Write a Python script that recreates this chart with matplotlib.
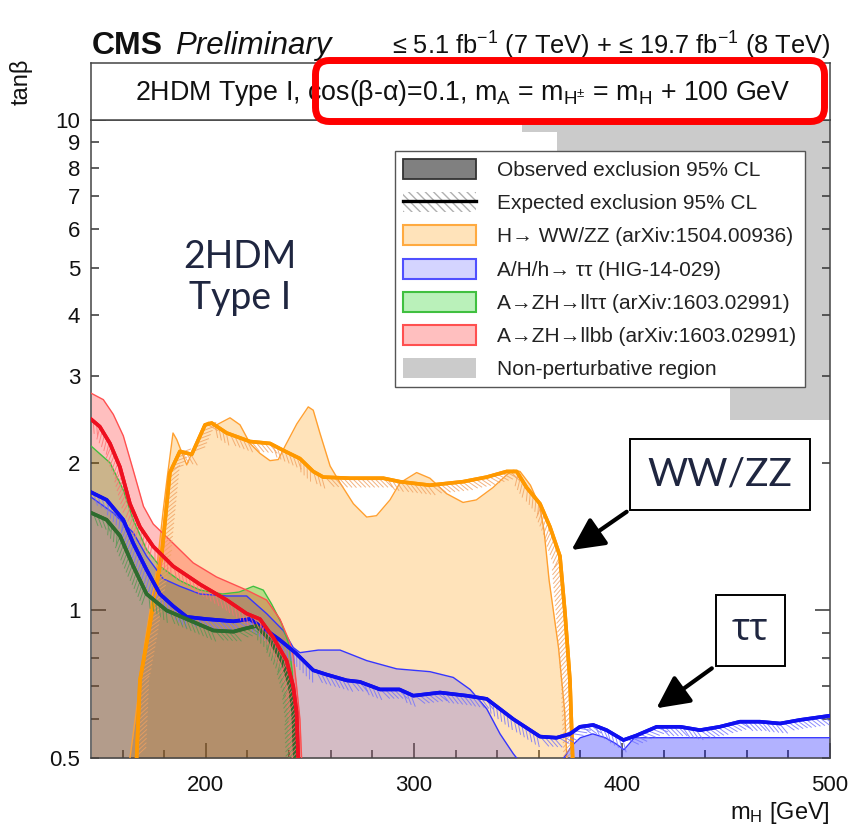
import matplotlib
matplotlib.use('Agg')
import matplotlib.pyplot as plt
import matplotlib.patheffects as pe
from matplotlib.patches import Patch, FancyBboxPatch
from matplotlib.lines import Line2D
from matplotlib.colors import to_rgba
from matplotlib.ticker import MultipleLocator, NullFormatter

plt.rcParams['font.family'] = ['Liberation Sans', 'DejaVu Sans']
plt.rcParams['mathtext.default'] = 'regular'

# ---- data (m_H in GeV, tan(beta)) ----
ww_obs_x = [163.5, 166.7, 170.7, 176.3, 179.5, 181.3, 184.2, 186, 190.8, 198.8, 201.2, 205.2,
            211.6, 216.4, 221.2, 226, 230.8, 234.8, 238, 243.7, 249.2, 251.6, 254.8, 259.7,
            264.5, 270.9, 277.3, 282, 288.5, 293.3, 301.3, 307.7, 315.7, 323.6, 330, 338,
            344.6, 347.7, 351, 356, 360.5, 362.5, 365, 369.5, 372.5, 373.5]
ww_obs_y = [0.5, 0.63, 0.86, 1.21, 1.6, 1.85, 2.30, 2.23, 1.98, 2.37, 2.42, 2.39,
            2.47, 2.39, 2.19, 2.09, 2.02, 2.03, 2.16, 2.40, 2.60, 2.56, 2.30, 1.97,
            1.82, 1.65, 1.55, 1.56, 1.68, 1.82, 1.91, 1.86, 1.73, 1.66, 1.68, 1.78,
            1.89, 1.93, 1.92, 1.80, 1.63, 1.46, 1.15, 0.84, 0.62, 0.5]
ww_exp_x = [166.7, 168.3, 172, 175, 178.7, 182.7, 187.5, 193.2, 199.6, 202.8, 210, 221.2,
            230.8, 237.2, 245.2, 251.6, 256.4, 269.3, 285.3, 293.3, 307.7, 323.6, 335,
            344.6, 349.4, 354.2, 360.6, 365.4, 370.2, 372.6, 375, 376.3]
ww_exp_y = [0.5, 0.72, 0.88, 1.05, 1.29, 1.91, 2.11, 2.08, 2.39, 2.41, 2.30, 2.21,
            2.19, 2.12, 2.04, 1.92, 1.87, 1.86, 1.86, 1.83, 1.80, 1.83, 1.87,
            1.92, 1.92, 1.78, 1.65, 1.48, 1.29, 0.99, 0.72, 0.5]

tt_obs_x = [145, 155.5, 165.1, 171.5, 179.5, 187.5, 197.2, 210, 219.6, 229.2, 237.2, 242,
            245.2, 254, 264.5, 277.3, 291.7, 307.7, 318.9, 327, 335, 341.4, 347.8, 349.4]
tt_obs_y = [1.70, 1.58, 1.44, 1.29, 1.16, 1.12, 1.08, 1.07, 1.07, 0.985, 0.91, 0.84,
            0.82, 0.83, 0.83, 0.79, 0.76, 0.75, 0.73, 0.69, 0.63, 0.56, 0.51, 0.5]
tt_obs2_x = [372, 376, 380, 386, 392, 397, 401, 406, 420, 440, 460, 480, 500]
tt_obs2_y = [0.5, 0.53, 0.55, 0.56, 0.55, 0.535, 0.52, 0.55, 0.55, 0.55, 0.55, 0.55, 0.55]
tt_exp_x = [145, 152.3, 160.3, 165.1, 171.5, 177.9, 184.3, 190.8, 200.4, 213.2, 221.2, 229.2,
            235.6, 243, 251.6, 258, 267.7, 274, 283.7, 293, 299.7, 312.5, 325.4, 335, 347.8,
            360.6, 368.6, 375, 379.8, 386.2, 392.6, 400.7, 407, 416.7, 428, 437.5, 447,
            456.7, 466.3, 476, 485.6, 500]
tt_exp_y = [1.74, 1.68, 1.53, 1.37, 1.21, 1.08, 1.02, 0.97, 0.96, 0.95, 0.96, 0.91,
            0.87, 0.82, 0.755, 0.74, 0.72, 0.715, 0.69, 0.69, 0.67, 0.68, 0.67, 0.66, 0.60,
            0.553, 0.55, 0.56, 0.579, 0.584, 0.57, 0.544, 0.556, 0.579, 0.579, 0.57, 0.579,
            0.593, 0.593, 0.588, 0.598, 0.61]

lltt_obs_x = [145, 153.9, 160.3, 165.1, 171.5, 177.9, 187.5, 197.2, 208, 216, 222.8, 227.6,
              231.6, 236.4, 240, 241.5, 242.5, 243.3]
lltt_obs_y = [2.16, 2.0, 1.76, 1.53, 1.33, 1.23, 1.15, 1.10, 1.08, 1.09, 1.12, 1.10,
              1.03, 0.94, 0.85, 0.75, 0.62, 0.5]
lltt_exp_x = [145, 152.3, 158.7, 165.1, 171.5, 181.1, 190.8, 203.6, 213.2, 219.6, 224.4,
              230.8, 237.2, 240.4, 242, 242.8]
lltt_exp_y = [1.58, 1.53, 1.42, 1.23, 1.08, 1.0, 0.96, 0.91, 0.905, 0.92, 0.93,
              0.87, 0.78, 0.70, 0.62, 0.5]

llbb_obs_x = [145, 150.7, 155.5, 160.3, 165.1, 170, 174.7, 184.3, 193.9, 205.1, 219.6, 229.2,
              235.6, 240.4, 242, 243.6, 245.2, 246]
llbb_obs_y = [2.77, 2.69, 2.51, 2.27, 1.93, 1.63, 1.50, 1.37, 1.25, 1.17, 1.10, 1.05,
              0.96, 0.86, 0.81, 0.70, 0.6, 0.5]
llbb_exp_x = [145, 149, 153.9, 158.7, 163.5, 168.3, 174.7, 184.3, 197.2, 210, 219.6, 226,
              232.4, 238.8, 242, 243.6, 244.4]
llbb_exp_y = [2.45, 2.37, 2.19, 1.96, 1.65, 1.48, 1.35, 1.23, 1.13, 1.05, 0.985, 0.96,
              0.88, 0.79, 0.70, 0.62, 0.5]

# non-perturbative region (step edges)
np_x = [352, 369, 452, 500]
np_y = [9.45, 4.0, 2.45, 2.45]

legend_labels = ['Observed exclusion 95% CL', 'Expected exclusion 95% CL',
                 'H\u2192 WW/ZZ (arXiv:1504.00936)', 'A/H/h\u2192 \u03c4\u03c4 (HIG-14-029)',
                 'A\u2192ZH\u2192ll\u03c4\u03c4 (arXiv:1603.02991)',
                 'A\u2192ZH\u2192llbb (arXiv:1603.02991)', 'Non-perturbative region']

c_orange, c_blue, c_green, c_red = '#ff9900', '#1010f0', '#2e6b2e', '#ee1020'

fig = plt.figure(figsize=(8.54, 8.39), dpi=100)
ax = fig.add_axes([0.1071, 0.0965, 0.8648, 0.7605])
ax.set_yscale('log')

# non-perturbative region
ax.fill_between(np_x, np_y, 10, step='post', color='#cbcbcb', lw=0, zorder=1)

# observed regions
ax.fill_between(ww_obs_x, 0.5, ww_obs_y, color=to_rgba('#ff9900', 0.27), lw=0, zorder=2)
ax.plot(ww_obs_x, ww_obs_y, color='#ffa030', lw=1, zorder=6)
ax.fill_between(tt_obs_x, 0.5, tt_obs_y, color=to_rgba('#0000ff', 0.17), lw=0, zorder=2)
ax.fill_between(tt_obs2_x, 0.5, tt_obs2_y, color=to_rgba('#0000ff', 0.3), lw=0, zorder=2)
ax.plot(tt_obs_x, tt_obs_y, color='#3535ff', lw=1, zorder=6)
ax.plot(tt_obs2_x, tt_obs2_y, color='#3535ff', lw=1, zorder=6)
ax.fill_between(lltt_obs_x, 0.5, lltt_obs_y, color=to_rgba('#00cc00', 0.27), lw=0, zorder=2)
ax.plot(lltt_obs_x, lltt_obs_y, color='#40c040', lw=1, zorder=6)
ax.fill_between(llbb_obs_x, 0.5, llbb_obs_y, color=to_rgba('#ff0000', 0.25), lw=0, zorder=2)
ax.plot(llbb_obs_x, llbb_obs_y, color='#ff5050', lw=1, zorder=6)


def ticked(col):
    return [pe.withTickedStroke(angle=-45, spacing=3.2, length=2.8, linewidth=0.7,
                                foreground=col, alpha=0.8), pe.Normal()]


# expected lines with hatched side
ax.plot(ww_exp_x, ww_exp_y, color=c_orange, lw=2.6, zorder=7, path_effects=ticked('#f0a060'))
ax.plot(tt_exp_x, tt_exp_y, color=c_blue, lw=2.6, zorder=8, path_effects=ticked('#7070ff'))
ax.plot(lltt_exp_x, lltt_exp_y, color=c_green, lw=2.6, zorder=8, path_effects=ticked('#559955'))
ax.plot(llbb_exp_x, llbb_exp_y, color=c_red, lw=2.6, zorder=8, path_effects=ticked('#ff7070'))

ax.set_xlim(145, 500)
ax.set_ylim(0.5, 10)

ax.set_xticks([200, 300, 400, 500])
ax.xaxis.set_minor_locator(MultipleLocator(20))
ax.xaxis.set_minor_formatter(NullFormatter())
ax.set_yticks([1, 10], ['1', '10'])
ax.set_yticks([0.5, 0.6, 0.7, 0.8, 0.9, 2, 3, 4, 5, 6, 7, 8, 9],
              ['0.5', '', '', '', '', '2', '3', '4', '5', '6', '7', '8', '9'], minor=True)
ax.tick_params(which='both', direction='in', right=True, top=False, labelsize=16,
               width=1.1, color='#333', labelcolor='#111', pad=8)
ax.tick_params(axis='x', which='both', pad=12)
ax.tick_params(which='major', length=11)
ax.tick_params(which='minor', length=6)
for s in ax.spines.values():
    s.set_linewidth(1.1)
    s.set_color('#444')

# big annotations
ax.text(0.201, 0.753, '2HDM\nType I', transform=ax.transAxes, ha='center', va='center',
        fontsize=27, family=['Lato', 'DejaVu Sans'], color='#1f2640', linespacing=1.15)
ax.text(0.851, 0.444, 'WW/ZZ', transform=ax.transAxes, ha='center', va='center',
        fontsize=28, family=['Lato', 'DejaVu Sans'], color='#1f2640', zorder=20,
        bbox=dict(boxstyle='square,pad=0.45', fc='white', ec='black', lw=1.4))
ax.text(0.892, 0.200, '\u03c4\u03c4', transform=ax.transAxes, ha='center', va='center',
        fontsize=28, family=['Open Sans', 'DejaVu Sans'], color='#1f2640', zorder=20,
        bbox=dict(boxstyle='square,pad=0.42', fc='white', ec='black', lw=1.4))
arrow = dict(arrowstyle='-|>,head_length=0.9,head_width=0.45', lw=3, color='black',
             mutation_scale=22, shrinkA=0, shrinkB=0)
ax.annotate('', xy=(0.650, 0.326), xytext=(0.7247, 0.386), xycoords='axes fraction',
            arrowprops=arrow, zorder=20)
ax.annotate('', xy=(0.765, 0.078), xytext=(0.840, 0.1406), xycoords='axes fraction',
            arrowprops=arrow, zorder=20)

# legend
handles = [
    Patch(facecolor='#808080', edgecolor='#333333', lw=1.3),
    (Patch(facecolor='none', edgecolor='#b0b0b0', hatch='\\\\\\\\', lw=0),
     Line2D([], [], color='black', lw=2.4)),
    Patch(facecolor=to_rgba('#ff9900', 0.27), edgecolor='#ffaa40', lw=1.5),
    Patch(facecolor=to_rgba('#0000ff', 0.17), edgecolor='#5050ff', lw=1.5),
    Patch(facecolor=to_rgba('#00cc00', 0.27), edgecolor='#40c040', lw=1.5),
    Patch(facecolor=to_rgba('#ff0000', 0.25), edgecolor='#ff5050', lw=1.5),
    Patch(facecolor='#cbcbcb', edgecolor='none'),
]
leg = ax.legend(handles, legend_labels, loc='upper left',
                bbox_to_anchor=(395 / 854, 1 - 150.7 / 839), bbox_transform=fig.transFigure,
                borderaxespad=0, fontsize=15, handlelength=3.5, handleheight=1.1,
                labelspacing=0.58, handletextpad=1.0, borderpad=0.4, fancybox=False,
                framealpha=1, edgecolor='#555555', labelcolor='#222222')
leg.get_frame().set_linewidth(1.0)
leg.set_zorder(15)

# header box
hax = fig.add_axes([0.1071, 0.8570, 0.8648, 0.0685])
hax.set_xticks([])
hax.set_yticks([])
for s in hax.spines.values():
    s.set_linewidth(1.1)
    s.set_color('#444')
hax.text(0.503, 0.47, '2HDM Type I, cos(\u03b2-\u03b1)=0.1, m$_{A}$ = m$_{H^{\\pm}}$ = m$_{H}$ + 100 GeV',
         ha='center', va='center', fontsize=19.3, color='#111')

# texts around the frame
fig.text(92 / 854, 1 - 46 / 839, 'CMS', weight='bold', fontsize=23, va='center', color='#111')
fig.text(175 / 854, 1 - 46 / 839, 'Preliminary', style='italic', fontsize=22.5, va='center', color='#111')
fig.text(830 / 854, 1 - 46 / 839, '\u2264 5.1 fb$^{-1}$ (7 TeV) + \u2264 19.7 fb$^{-1}$ (8 TeV)',
         ha='right', va='center', fontsize=18.3, color='#111')
fig.text(21 / 854, 1 - 82 / 839, 'tan\u03b2', rotation=90, ha='center', va='center', fontsize=17,
         color='#111')
fig.text(830 / 854, 1 - 813 / 839, 'm$_{H}$ [GeV]', ha='right', va='center', fontsize=17,
         color='#111')

# red highlight box
fig.add_artist(FancyBboxPatch((3.155, 8.39 - 1.215), 5.09, 0.61,
                              boxstyle='round,pad=0,rounding_size=0.14',
                              transform=fig.dpi_scale_trans, fc='none', ec='#ff0000',
                              lw=5, zorder=30))

fig.savefig('out.png', dpi=100)
